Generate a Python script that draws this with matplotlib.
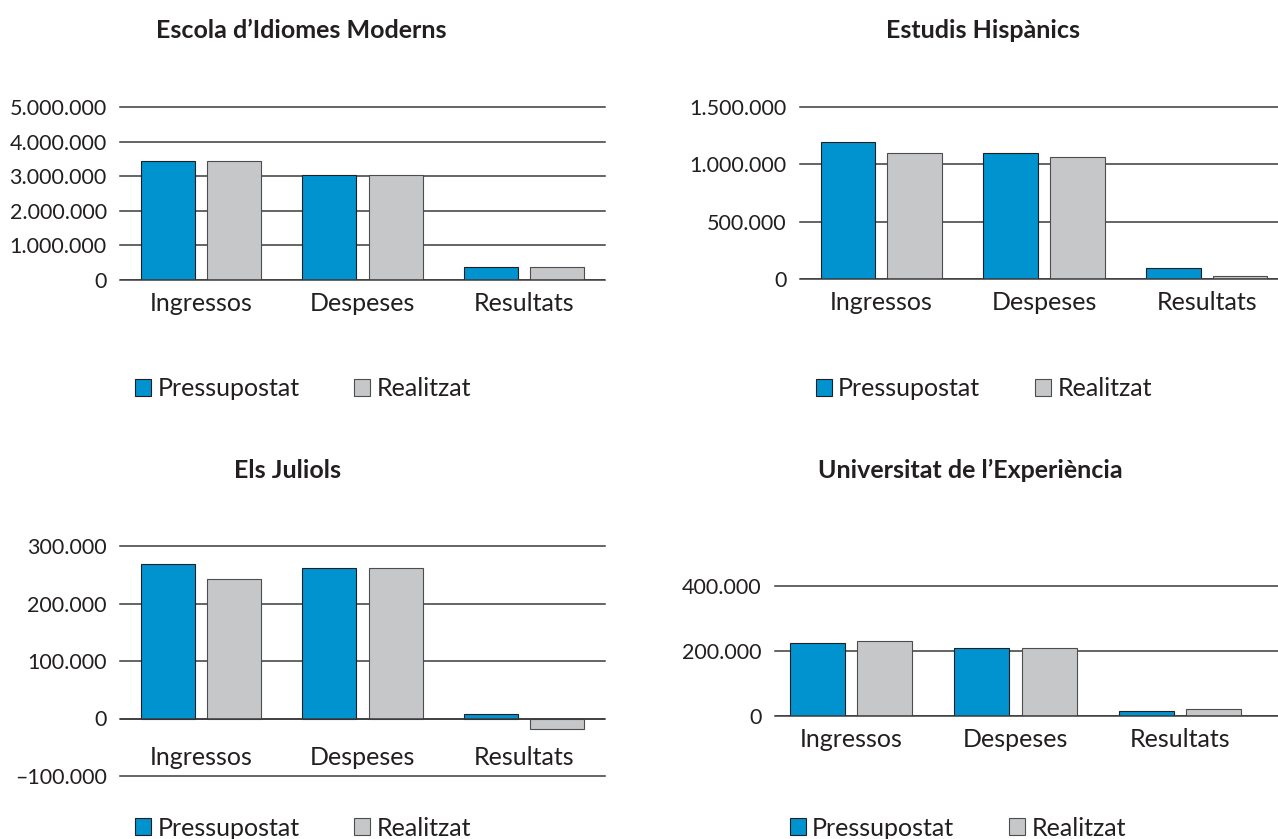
import matplotlib
matplotlib.use('Agg')
from matplotlib import pyplot as plt
from matplotlib.patches import Patch
import numpy as np

# data
categories = ['Ingressos', 'Despeses', 'Resultats']
series_names = ['Pressupostat', 'Realitzat']

titles = ['Escola d\u2019Idiomes Moderns', 'Estudis Hisp\u00e0nics',
          'Els Juliols', 'Universitat de l\u2019Experi\u00e8ncia']

eim_pres = [3440000, 3040000, 370000]
eim_real = [3440000, 3040000, 370000]
eh_pres = [1195000, 1095000, 100000]
eh_real = [1095000, 1065000, 22000]
jul_pres = [269000, 261000, 8000]
jul_real = [242000, 261000, -17500]
ue_pres = [226000, 210000, 16000]
ue_real = [232000, 210000, 22000]

eim_ticks = [0, 1000000, 2000000, 3000000, 4000000, 5000000]
eh_ticks = [0, 500000, 1000000, 1500000]
jul_ticks = [-100000, 0, 100000, 200000, 300000]
ue_ticks = [0, 200000, 400000]

BLUE = '#0093d0'
GREY = '#c6c7c9'
DARK = '#231f20'

plt.rcParams['font.family'] = ['Lato', 'DejaVu Sans']
W, H = 1278, 839
fig = plt.figure(figsize=(W / 100, H / 100), dpi=100)


def fmt(v):
    s = '{:,}'.format(abs(int(v))).replace(',', '.')
    return ('\u2013' + s) if v < 0 else s


def panel(box, pres, real, ticks, title, title_xy, leg_xy, xlim=(-0.5, 2.5), lab_off=-17):
    l, r, t, b = box
    ax = fig.add_axes([l / W, 1 - b / H, (r - l) / W, (b - t) / H])
    x = np.arange(len(categories))
    ax.bar(x - 0.205, pres, 0.335, color=BLUE, edgecolor=DARK, linewidth=0.8, zorder=3)
    ax.bar(x + 0.205, real, 0.335, color=GREY, edgecolor='#4d4d4f', linewidth=0.8, zorder=3)
    ax.set_xlim(*xlim)
    ax.set_ylim(ticks[0], ticks[-1])
    ax.set_yticks(ticks)
    ax.set_yticklabels([fmt(v) for v in ticks])
    for v in ticks:
        ax.axhline(v, color='#3a3a3a', linewidth=1.1, zorder=1, clip_on=False)
    ax.axhline(0, color='#3a3a3a', linewidth=1.1, zorder=4)
    ax.set_xticks([])
    ax.tick_params(length=0, labelsize=15.5, colors=DARK, pad=9.5)
    for s in ax.spines.values():
        s.set_visible(False)
    for i, c in enumerate(categories):
        ax.annotate(c, (i, 0), xycoords='data', xytext=(0, lab_off), textcoords='offset points',
                    ha='center', va='center', fontsize=18, color=DARK)
    fig.text(title_xy[0] / W, 1 - title_xy[1] / H, title, ha='center', va='center',
             fontsize=18, fontweight='bold', color=DARK)
    handles = [Patch(facecolor=BLUE, edgecolor=DARK, linewidth=0.8),
               Patch(facecolor=GREY, edgecolor='#4d4d4f', linewidth=0.8)]
    fig.legend(handles, series_names, loc='center left',
               bbox_to_anchor=(leg_xy[0] / W, 1 - leg_xy[1] / H), ncol=2, frameon=False,
               fontsize=18, handlelength=0.64, handleheight=0.64, handletextpad=0.25,
               columnspacing=2.2, borderpad=0, borderaxespad=0, labelcolor=DARK)
    return ax


panel((120, 605, 107, 280), eim_pres, eim_real, eim_ticks, titles[0], (301, 30), (135, 389))
panel((800, 1288, 107, 279), eh_pres, eh_real, eh_ticks, titles[1], (983, 30), (816, 389))
panel((120, 605, 546, 776), jul_pres, jul_real, jul_ticks, titles[2], (288, 470), (135, 828),
      lab_off=-28)
panel((775, 1278, 586, 716), ue_pres, ue_real, ue_ticks, titles[3], (970, 470), (790, 828),
      xlim=(-0.462, 2.596))

fig.savefig('out.png', dpi=100, facecolor='white')
